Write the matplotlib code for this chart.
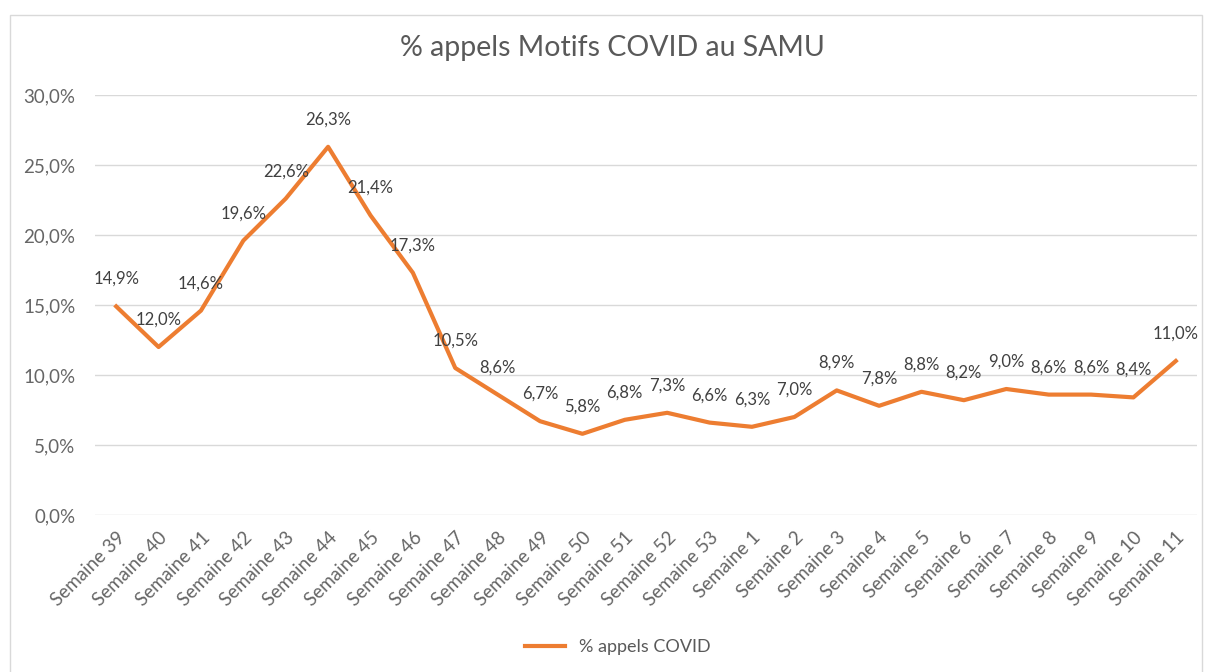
import matplotlib.pyplot as plt
from matplotlib.patches import Rectangle
from matplotlib.ticker import FuncFormatter

weeks = ['Semaine ' + str(w) for w in list(range(39, 54)) + list(range(1, 12))]
pct_covid = [14.9, 12.0, 14.6, 19.6, 22.6, 26.3, 21.4, 17.3, 10.5, 8.6, 6.7, 5.8, 6.8,
             7.3, 6.6, 6.3, 7.0, 8.9, 7.8, 8.8, 8.2, 9.0, 8.6, 8.6, 8.4, 11.0]

plt.rcParams['font.family'] = ['Lato', 'DejaVu Sans']

fig = plt.figure(figsize=(12.05, 6.72), dpi=100)
fig.patches.append(Rectangle((10 / 1205, -0.01), 1192 / 1205, 0.99 - 2 / 672,
                             transform=fig.transFigure, fill=False,
                             edgecolor='#d9d9d9', linewidth=1))
ax = fig.add_axes([95 / 1205, 157 / 672, 1102 / 1205, 420 / 672])

x = range(len(weeks))
ax.plot(x, pct_covid, color='#ed7d31', linewidth=3, label='% appels COVID',
        solid_joinstyle='round')
for i, v in zip(x, pct_covid):
    ax.annotate(f'{v:.1f}%'.replace('.', ','), (i, v), xytext=(0, 14),
                textcoords='offset points', ha='center', va='bottom',
                fontsize=12, color='#404040')

ax.set_xlim(-0.5, len(weeks) - 0.5)
ax.set_ylim(0, 30)
ax.set_yticks(range(0, 31, 5))
ax.yaxis.set_major_formatter(FuncFormatter(lambda v, p: f'{v:.1f}%'.replace('.', ',')))
ax.set_xticks(list(x))
ax.set_xticklabels(weeks, rotation=45, ha='right', rotation_mode='anchor')
ax.tick_params(axis='both', length=0, labelsize=13.5, colors='#666666')
ax.tick_params(axis='x', pad=10)
ax.tick_params(axis='y', pad=14)
ax.grid(axis='y', color='#d9d9d9', linewidth=1)
ax.set_axisbelow(True)
for s in ax.spines.values():
    s.set_visible(False)

fig.text(0.508, 0.928, '% appels Motifs COVID au SAMU', ha='center', va='center',
         fontsize=20.5, color='#595959')
leg = fig.legend(loc='center', frameon=False, fontsize=13, labelcolor='#595959',
                 handlelength=2.2)
leg.set_bbox_to_anchor((0.513, 1 - 647 / 672), transform=fig.transFigure)

fig.savefig('out.png', dpi=100)
